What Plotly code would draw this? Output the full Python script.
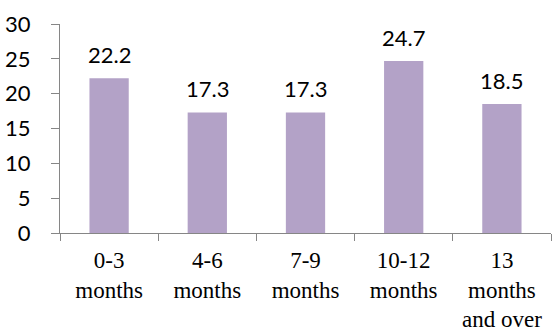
import plotly.graph_objects as go

categories = ["0-3<br>months", "4-6<br>months", "7-9<br>months", "10-12<br>months", "13<br>months<br>and over"]
values = [22.2, 17.3, 17.3, 24.7, 18.5]
labels = ["22.2", "17.3", "17.3", "24.7", "18.5"]
y_ticks = [0, 5, 10, 15, 20, 25, 30]

fig = go.Figure()
fig.add_trace(go.Bar(x=categories, y=values, marker=dict(color="#B3A2C7", line=dict(width=0)),
                     width=0.4, hoverinfo="skip"))

for c, v, t in zip(categories, values, labels):
    fig.add_annotation(x=c, y=v, text=t, showarrow=False, yanchor="bottom", yshift=8,
                       font=dict(family="Lato", size=22, color="#000000"))

fig.update_layout(
    width=552, height=336,
    margin=dict(l=60, r=1, t=24, b=103, autoexpand=False),
    paper_bgcolor="white", plot_bgcolor="white",
    showlegend=False,
    xaxis=dict(showgrid=False, showline=True, linecolor="#868686", linewidth=1,
               ticks="outside", tickson="boundaries", ticklen=7, tickcolor="#868686",
               tickangle=0, automargin=False,
               tickfont=dict(family="Liberation Serif", size=23, color="#000000"),
               ticklabelstandoff=6),
    yaxis=dict(range=[0, 30], tickvals=y_ticks, showgrid=False, zeroline=False,
               showline=True, linecolor="#868686", linewidth=1, automargin=False,
               ticks="outside", ticklen=8, tickcolor="#868686",
               tickfont=dict(family="Lato", size=22, color="#000000"),
               ticklabelstandoff=16),
)

fig.write_html("out.html")
